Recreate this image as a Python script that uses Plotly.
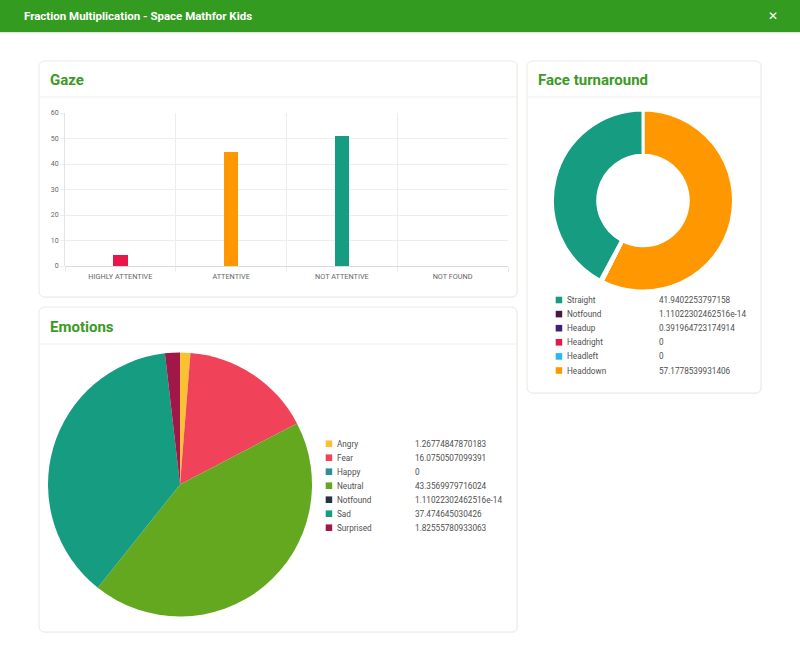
import plotly.graph_objects as go

W, H = 800, 663

# ---------------- data ----------------
page_title = "Fraction Multiplication - Space Mathfor Kids"

gaze_categories = ["HIGHLY ATTENTIVE", "ATTENTIVE", "NOT ATTENTIVE", "NOT FOUND"]
gaze_values = [4.3, 44.8, 50.9, 0]
gaze_colors = ["#E8164A", "#FF9800", "#169C80", "#29B6F6"]

emotion_labels = ["Angry", "Fear", "Happy", "Neutral", "Notfound", "Sad", "Surprised"]
emotion_values = [1.26774847870183, 16.0750507099391, 0, 43.3569979716024,
                  1.11022302462516e-14, 37.474645030426, 1.82555780933063]
emotion_colors = ["#F9C232", "#F0435A", "#2F8E9A", "#64A820", "#263142", "#169C80", "#A0174A"]

face_labels = ["Straight", "Notfound", "Headup", "Headright", "Headleft", "Headdown"]
face_values = [41.9402253797158, 1.11022302462516e-14, 0.391964723174914, 0, 0, 57.1778539931406]
face_colors = ["#169C80", "#4A1942", "#3B1F7A", "#E8164A", "#29B6F6", "#FF9800"]

# ---------------- helpers ----------------
def fx(x):
    return x / W

def fy(y):
    return 1 - y / H

def rrect(x0, y0, x1, y1, r):
    return (f"M {fx(x0+r)} {fy(y0)} L {fx(x1-r)} {fy(y0)} Q {fx(x1)} {fy(y0)} {fx(x1)} {fy(y0+r)} "
            f"L {fx(x1)} {fy(y1-r)} Q {fx(x1)} {fy(y1)} {fx(x1-r)} {fy(y1)} "
            f"L {fx(x0+r)} {fy(y1)} Q {fx(x0)} {fy(y1)} {fx(x0)} {fy(y1-r)} "
            f"L {fx(x0)} {fy(y0+r)} Q {fx(x0)} {fy(y0)} {fx(x0+r)} {fy(y0)} Z")

FONT = "Roboto"
GREEN = "#349B21"
TITLE_GREEN = "#3A9A24"

fig = go.Figure()

# Gaze bar chart
fig.add_trace(go.Bar(
    x=gaze_categories, y=gaze_values, marker=dict(color=gaze_colors, line=dict(width=0)),
    width=0.13, showlegend=False, hoverinfo="x+y",
))

# Emotions pie (clockwise from 12 o'clock)
fig.add_trace(go.Pie(
    labels=emotion_labels, values=emotion_values, marker=dict(colors=emotion_colors, line=dict(width=0)),
    sort=False, direction="clockwise", rotation=0, textinfo="none", showlegend=False,
    domain=dict(x=[fx(48), fx(312)], y=[fy(617), fy(352)]),
))

# Face turnaround donut (first slice runs counter-clockwise from 12 o'clock)
fig.add_trace(go.Pie(
    labels=face_labels[::-1], values=face_values[::-1], hole=0.5,
    marker=dict(colors=face_colors[::-1], line=dict(color="white", width=3)),
    sort=False, direction="clockwise", rotation=0, textinfo="none", showlegend=False,
    domain=dict(x=[fx(552.5), fx(733.5)], y=[fy(291), fy(110)]),
))

shapes = []
annotations = []

# header bar
shapes.append(dict(type="rect", xref="paper", yref="paper", x0=0, x1=1, y0=fy(32), y1=1,
                   fillcolor=GREEN, line=dict(width=0), layer="below"))
for i, a in enumerate([0.10, 0.04]):
    shapes.append(dict(type="rect", xref="paper", yref="paper", x0=0, x1=1,
                       y0=fy(33 + i), y1=fy(32 + i),
                       fillcolor=f"rgba(0,0,0,{a})", line=dict(width=0), layer="below"))
annotations.append(dict(text=f"<b>{page_title}</b>", xref="paper", yref="paper",
                        x=fx(22), y=fy(16), xanchor="left", yanchor="middle", showarrow=False,
                        font=dict(family=FONT, size=11.5, color="white")))
annotations.append(dict(text="✕", xref="paper", yref="paper",
                        x=fx(773), y=fy(16), xanchor="center", yanchor="middle", showarrow=False,
                        font=dict(family="DejaVu Sans", size=12, color="white")))

# cards
cards = [
    ("Gaze", 39, 61, 517, 297, 97),
    ("Face turnaround", 527, 61, 761, 393, 97),
    ("Emotions", 39, 307, 517, 632, 344),
]
for title, x0, y0, x1, y1, ydiv in cards:
    shapes.append(dict(type="path", xref="paper", yref="paper", path=rrect(x0 + 1, y0 + 1, x1 + 1, y1 + 1, 6),
                       fillcolor="rgba(0,0,0,0.03)", line=dict(width=0), layer="below"))
    shapes.append(dict(type="path", xref="paper", yref="paper", path=rrect(x0, y0, x1, y1, 6),
                       fillcolor="white", line=dict(color="#E8EBE4", width=1), layer="below"))
    shapes.append(dict(type="line", xref="paper", yref="paper", x0=fx(x0), x1=fx(x1),
                       y0=fy(ydiv), y1=fy(ydiv), line=dict(color="#EEEEEE", width=1), layer="below"))
    annotations.append(dict(text=f"<b>{title}</b>", xref="paper", yref="paper",
                            x=fx(x0 + 9), y=fy((y0 + ydiv) / 2 + 1), xanchor="left", yanchor="middle",
                            showarrow=False, font=dict(family=FONT, size=15, color=TITLE_GREEN)))

# custom legends
def add_legend(labels, values, colors, sw_x, name_x, val_x, y_first, step):
    for i, (lab, val, col) in enumerate(zip(labels, values, colors)):
        yc = y_first + i * step
        shapes.append(dict(type="rect", xref="paper", yref="paper",
                           x0=fx(sw_x), x1=fx(sw_x + 6.5), y0=fy(yc + 3.3), y1=fy(yc - 3.3),
                           fillcolor=col, line=dict(width=0), layer="above"))
        annotations.append(dict(text=lab, xref="paper", yref="paper", x=fx(name_x), y=fy(yc),
                                xanchor="left", yanchor="middle", showarrow=False,
                                font=dict(family=FONT, size=8.2, color="#505050")))
        annotations.append(dict(text=str(val), xref="paper", yref="paper", x=fx(val_x), y=fy(yc),
                                xanchor="left", yanchor="middle", showarrow=False,
                                font=dict(family=FONT, size=8.2, color="#505050")))

add_legend(emotion_labels, emotion_values, emotion_colors, 325.7, 335, 412.5, 443.7, 14)
add_legend(face_labels, face_values, face_colors, 555.7, 565, 656.5, 300, 14.1)

fig.update_layout(
    width=W, height=H, margin=dict(l=0, r=0, t=0, b=0, pad=0, autoexpand=False),
    paper_bgcolor="white", plot_bgcolor="rgba(0,0,0,0)",
    font=dict(family=FONT, color="#666666"),
    shapes=shapes, annotations=annotations,
    xaxis=dict(domain=[fx(65), fx(508)], type="category", tickson="boundaries",
               showgrid=True, gridcolor="#EDEDED", gridwidth=1,
               ticks="outside", ticklen=5, tickcolor="#EDEDED", ticklabelstandoff=5,
               tickfont=dict(family=FONT, size=7.3, color="#666666"), automargin=False,
               showline=False, zeroline=False, fixedrange=True),
    yaxis=dict(domain=[fy(266), fy(113)], range=[0, 60], dtick=10,
               showgrid=True, gridcolor="#EDEDED", gridwidth=1,
               ticks="outside", ticklen=4, tickcolor="#EDEDED", automargin=False,
               tickfont=dict(family=FONT, size=7, color="#666666"),
               showline=True, linecolor="#E4E4E4", linewidth=1,
               zeroline=True, zerolinecolor="#DADADA", zerolinewidth=1, fixedrange=True),
    bargap=0,
)

fig.write_html("out.html")
